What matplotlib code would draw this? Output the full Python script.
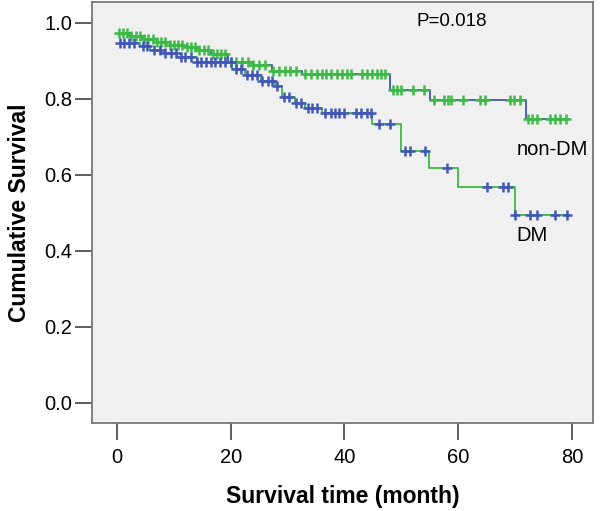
import matplotlib
matplotlib.use("Agg")
import matplotlib.pyplot as plt
import numpy as np

plt.rcParams['font.family'] = ['Liberation Sans', 'DejaVu Sans']

# Kaplan-Meier step knots (month, survival)
nondm_t = [0.3, 2.3, 4.6, 7.0, 9.3, 11.7, 14.0, 16.6, 19.6, 23.7, 27.2, 32.5, 48.0, 55.0, 72.0, 79.3]
nondm_s = [0.973, 0.966, 0.958, 0.950, 0.943, 0.936, 0.929, 0.918, 0.898, 0.889, 0.872, 0.865, 0.823, 0.796, 0.746, 0.746]
dm_t = [0.5, 4.0, 5.8, 7.6, 10.5, 14.0, 20.3, 22.5, 25.4, 27.8, 29.0, 31.3, 33.1, 36.0, 44.8, 49.9, 54.9, 60.0, 70.0, 79.1]
dm_s = [0.947, 0.938, 0.929, 0.920, 0.910, 0.898, 0.878, 0.863, 0.846, 0.833, 0.806, 0.789, 0.776, 0.762, 0.734, 0.664, 0.618, 0.567, 0.495, 0.495]

# censored observations (month)
nondm_cens = [0.3, 1.0, 1.8, 2.5, 3.3, 4.0, 4.8, 5.5, 6.3, 7.0, 7.8, 8.5, 9.3, 10.0, 10.8,
              11.5, 12.3, 13.0, 13.8, 14.5, 15.3, 16.0, 16.8, 17.5, 18.3, 19.0, 20.0, 21.0,
              22.0, 23.0, 24.0, 25.0, 26.0, 27.5, 28.5, 29.5, 30.5, 31.5, 33.1, 34.2, 35.1,
              36.0, 36.8, 37.7, 38.6, 39.5, 40.4, 41.1, 43.0, 43.9, 44.8, 45.7, 46.5, 47.1,
              48.5, 49.3, 50.0, 52.1, 53.9, 55.8, 57.5, 58.2, 58.8, 60.9, 63.9, 64.7, 69.1,
              69.8, 70.9, 72.3, 73.0, 73.8, 76.1, 77.0, 77.9, 78.9]
dm_cens = [0.5, 1.3, 2.1, 3.0, 4.5, 5.3, 6.5, 7.5, 8.5, 9.5, 10.3, 11.2, 12.0, 13.0, 14.0,
           14.8, 15.7, 16.5, 17.3, 18.2, 19.0, 20.0, 21.0, 21.8, 22.8, 23.7, 24.6, 25.5,
           26.5, 27.3, 28.2, 29.4, 30.3, 31.5, 32.4, 33.5, 34.3, 35.2, 36.5, 37.7, 38.3,
           39.1, 39.9, 42.0, 42.9, 43.9, 44.6, 46.0, 48.0, 50.6, 51.5, 54.2, 58.0, 65.0,
           67.9, 68.8, 70.0, 72.6, 73.8, 77.0, 79.1]

green = '#3dba45'
blue = '#4156b8'


def surv_at(t, s, c):
    t = np.array(t)
    s = np.array(s)
    idx = np.searchsorted(t, c, side='right') - 1
    return s[np.clip(idx, 0, len(s) - 1)]


fig = plt.figure(figsize=(6, 5.11), dpi=100)
ax = fig.add_axes([0.1533, 0.1722, 0.835, 0.824])
ax.set_facecolor('#f0f0f0')

ax.step(nondm_t, nondm_s, where='post', color=blue, lw=1.3, zorder=3)
ax.step(dm_t, dm_s, where='post', color=green, lw=1.3, zorder=3)
ax.plot(nondm_cens, surv_at(nondm_t, nondm_s, nondm_cens), '+', color=green,
        ms=7, mew=1.8, zorder=4)
ax.plot(dm_cens, surv_at(dm_t, dm_s, dm_cens), '+', color=blue,
        ms=7, mew=1.8, zorder=4)

ax.text(58.9, 1.003, 'P=0.018', fontsize=13.5, ha='center', va='center')
ax.text(70.2, 0.666, 'non-DM', fontsize=14.5, ha='left', va='center')
ax.text(70.3, 0.44, 'DM', fontsize=14.5, ha='left', va='center')

ax.set_xlim(-4.4, 83.7)
ax.set_ylim(-0.053, 1.055)
ax.set_xticks([0, 20, 40, 60, 80])
ax.set_yticks([0.0, 0.2, 0.4, 0.6, 0.8, 1.0])
ax.set_yticklabels(['0.0', '0.2', '0.4', '0.6', '0.8', '1.0'])
ax.tick_params(axis='both', length=12, width=1.1, color='#333333', labelsize=14.5)
ax.tick_params(axis='x', pad=6)
ax.tick_params(axis='y', pad=2)
for sp in ax.spines.values():
    sp.set_color('#777777')
    sp.set_linewidth(1.3)

ax.set_xlabel('Survival time (month)', fontsize=16.5, fontweight='bold', labelpad=13)
ax.set_ylabel('Cumulative Survival', fontsize=16.5, fontweight='bold', labelpad=10)

fig.savefig('out.png', dpi=100)
